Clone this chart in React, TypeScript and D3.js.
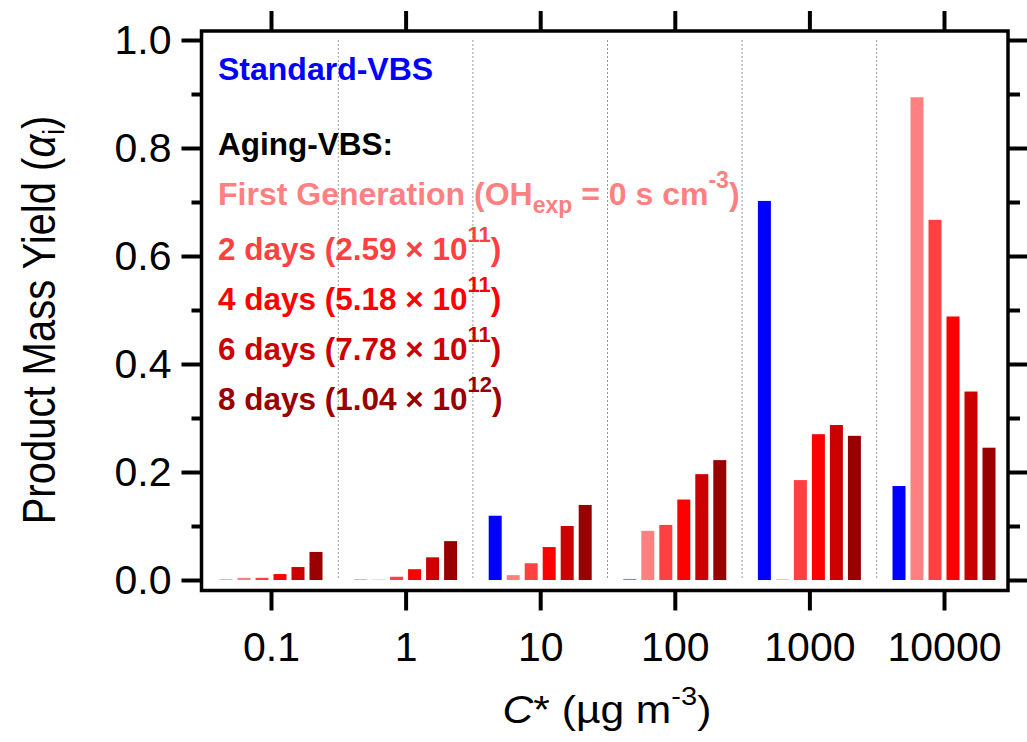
import React, { useEffect, useRef } from "react";
import * as d3 from "d3";

// ---- data ----
const categories = ["0.1", "1", "10", "100", "1000", "10000"];
const seriesKeys = ["standard", "firstGen", "days2", "days4", "days6", "days8"];
const seriesColors = ["#0000FF", "#FF8080", "#FF4040", "#FF0000", "#CC0000", "#990000"];
const standardVBS = [0.001, 0.001, 0.119, 0.002, 0.702, 0.174];
const firstGeneration = [0.004, 0.001, 0.009, 0.091, 0.002, 0.894];
const days2 = [0.004, 0.006, 0.031, 0.102, 0.185, 0.667];
const days4 = [0.011, 0.02, 0.061, 0.149, 0.27, 0.488];
const days6 = [0.024, 0.042, 0.1, 0.196, 0.287, 0.349];
const days8 = [0.052, 0.072, 0.139, 0.222, 0.267, 0.245];
const yMajorTicks = [0, 0.2, 0.4, 0.6, 0.8, 1.0];
const yMinorTicks = [0.1, 0.3, 0.5, 0.7, 0.9];
const agingLabels = ["2 days (2.59 × 10", "4 days (5.18 × 10", "6 days (7.78 × 10", "8 days (1.04 × 10"];
const agingExponents = ["11", "11", "11", "12"];

const seriesValues = [standardVBS, firstGeneration, days2, days4, days6, days8];

const W = 1027;
const H = 742;
const frame = { left: 201.5, top: 31, right: 1008, bottom: 590.5 };
const FONT = "'Liberation Sans', Arial, Helvetica, sans-serif";

export default function App() {
  const axRef = useRef<SVGGElement>(null);

  const x = d3.scalePoint<string>().domain(categories).range([271, 944]);
  const step = x.step();
  const xs = d3.scaleBand<string>().domain(seriesKeys).range([-51.5, 51.5]).paddingInner(5 / 18).paddingOuter(0);
  const y = d3.scaleLinear().domain([0, 1]).range([580, 40]);

  useEffect(() => {
    const g = d3.select(axRef.current);
    g.selectAll("*").remove();
    const style = (sel: any) => {
      sel.select(".domain").remove();
      sel.selectAll(".tick line").attr("stroke", "#000").attr("stroke-width", 4);
      sel.selectAll(".tick text").attr("fill", "#000").style("font-family", FONT).style("font-size", "41px");
    };
    g.append("g").attr("transform", `translate(${frame.left},0)`)
      .call(d3.axisLeft(y).tickValues(yMajorTicks).tickSize(20).tickPadding(10).tickFormat(d3.format(".1f")))
      .call(style);
    g.append("g").attr("transform", `translate(${frame.left},0)`)
      .call(d3.axisLeft(y).tickValues(yMinorTicks).tickSize(10).tickFormat(() => ""))
      .call(style);
    g.append("g").attr("transform", `translate(${frame.right},0)`)
      .call(d3.axisRight(y).tickValues(yMajorTicks).tickSize(20).tickFormat(() => ""))
      .call(style);
    g.append("g").attr("transform", `translate(${frame.right},0)`)
      .call(d3.axisRight(y).tickValues(yMinorTicks).tickSize(12).tickFormat(() => ""))
      .call(style);
    const bx = g.append("g").attr("transform", `translate(0,${frame.bottom})`)
      .call(d3.axisBottom(x).tickSize(20).tickPadding(10))
      .call(style);
    bx.selectAll(".tick text").attr("dy", null).attr("y", 661 - frame.bottom);
    g.append("g").attr("transform", `translate(0,${frame.top})`)
      .call(d3.axisTop(x).tickSize(20).tickFormat(() => ""))
      .call(style);
  }, []);

  const dividers = categories.slice(1).map((c) => (x(c) as number) - step / 2);

  return (
    <svg width={W} height={H} style={{ position: "absolute", left: 0, top: 0, background: "#fff" }} fontFamily={FONT}>
      <rect x={0} y={0} width={W} height={H} fill="#fff" />
      {dividers.map((d, i) => (
        <line key={i} x1={d} x2={d} y1={y(1)} y2={y(0)} stroke="#9a9a9a" strokeWidth={1} strokeDasharray="2,2" />
      ))}
      {seriesKeys.map((k, si) => (
        <g key={k} fill={seriesColors[si]}>
          {categories.map((c, ci) => {
            const v = seriesValues[si][ci];
            const h = y(0) - y(v);
            return (
              <rect key={c} x={(x(c) as number) + (xs(k) as number)} width={xs.bandwidth()} y={y(v)} height={h}
                opacity={h < 1.5 ? 0.5 : 1} />
            );
          })}
        </g>
      ))}
      <rect x={frame.left} y={frame.top} width={frame.right - frame.left} height={frame.bottom - frame.top}
        fill="none" stroke="#000" strokeWidth={3.5} />
      <g ref={axRef} />
      {/* legend */}
      <g fontWeight="bold">
        <text x={218} y={80} fontSize={32} fill={seriesColors[0]}>Standard-VBS</text>
        <text x={218} y={155} fontSize={31.5} fill="#000">Aging-VBS:</text>
        <text x={218} y={205} fontSize={32} fill={seriesColors[1]}>
          First Generation (OH<tspan fontSize={23} dy={8}>exp</tspan>
          <tspan dy={-8}> = 0 s cm</tspan>
          <tspan fontSize={23} dy={-17}>-3</tspan>
          <tspan dy={17}>)</tspan>
        </text>
        {agingLabels.map((t, i) => (
          <text key={i} x={218} y={260 + i * 50} fontSize={31.5} fill={seriesColors[i + 2]}>
            {t}
            <tspan fontSize={22} dy={-18}>{agingExponents[i]}</tspan>
            <tspan dy={18}>)</tspan>
          </text>
        ))}
      </g>
      {/* axis titles */}
      <text transform="translate(55,320) rotate(-90) scale(1,1.15)" textAnchor="middle" fontSize={40} fill="#000">
        Product Mass Yield (<tspan fontStyle="italic">α</tspan>
        <tspan fontSize={26} dy={8}>i</tspan>
        <tspan dy={-8}>)</tspan>
      </text>
      <text transform="translate(607,723) scale(1.12,1)" textAnchor="middle" fontSize={38} fill="#000">
        <tspan fontStyle="italic">C</tspan>* (µg m<tspan fontSize={26} dy={-18}>-3</tspan>
        <tspan dy={18}>)</tspan>
      </text>
    </svg>
  );
}
